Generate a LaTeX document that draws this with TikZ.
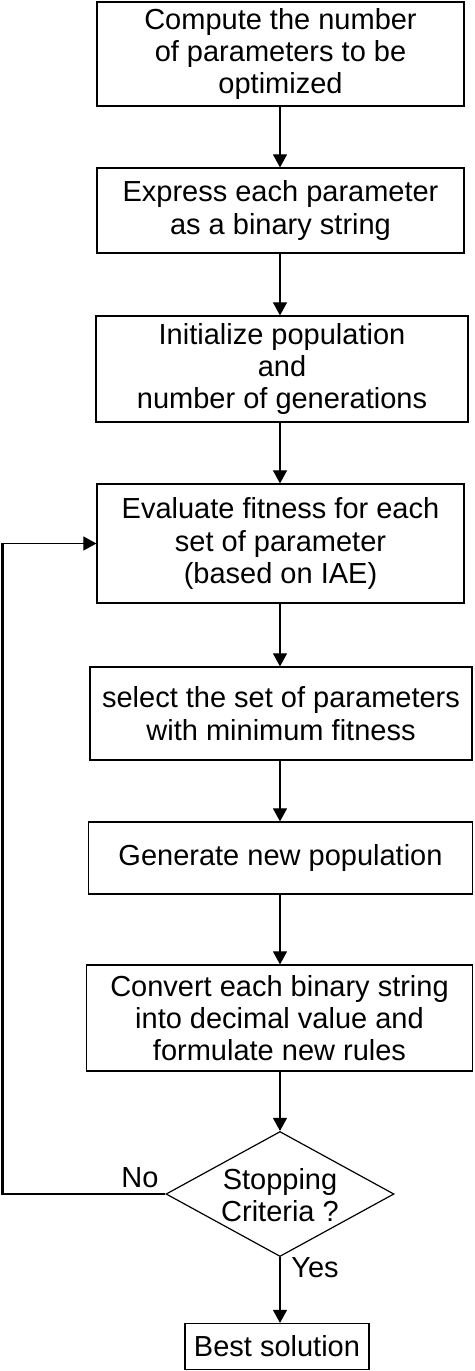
\documentclass[tikz,border=0pt]{standalone}
\usepackage{fontspec}
\setmainfont{Liberation Sans}
\usetikzlibrary{arrows.meta,shapes.geometric}
\newcommand\fcfont{\fontsize{29}{32.3}\selectfont}
\begin{document}
\begin{tikzpicture}[x=1pt,y=-1pt,
  box/.style={draw, line width=1.2pt, align=center, inner sep=0pt, font=\fcfont},
  arr/.style={-{Triangle[length=13pt,width=14pt]}, line width=1.1pt},
  lbl/.style={font=\fcfont, inner sep=0pt, align=center}]
\useasboundingbox (0,0) rectangle (474,1371);
\node[box, minimum width=367pt, minimum height=104pt] (b1) at (280.5,54) {Compute the number\\of parameters to be\\optimized};
\node[box, minimum width=367pt, minimum height=85pt] (b2) at (280.5,210.5) {Express each parameter\\as a binary string};
\node[box, minimum width=372pt, minimum height=106pt] (b3) at (282,369) {Initialize population\\and\\number of generations};
\node[box, minimum width=367pt, minimum height=119pt] (b4) at (280.5,543.5) {Evaluate fitness for each\\set of parameter\\(based on IAE)};
\node[box, minimum width=382pt, minimum height=93pt] (b5) at (281,713.5) {select the set of parameters\\with minimum fitness};
\node[box, minimum width=384pt, minimum height=72pt] (b6) at (280.5,858) {Generate new population};
\node[box, minimum width=386pt, minimum height=106pt] (b7) at (279.5,1018) {Convert each binary string\\into decimal value and\\formulate new rules};
\node[draw, diamond, line width=1.2pt, inner sep=0pt, minimum width=228pt, minimum height=125pt] (dia) at (280,1194) {};
\node[lbl] (diatext) at (280,1195) {Stopping\\Criteria ?};
\node[box, minimum width=184pt, minimum height=46pt] (best) at (277,1346.5) {Best solution};
\node[lbl] (no) at (140,1178) {No};
\node[lbl] (yes) at (315,1268) {Yes};
\coordinate (fbb) at (2,1194);
\draw[arr] (b1.south -| 280,0) -- (280,0 |- b2.north);
\draw[arr] (b2.south -| 280,0) -- (280,0 |- b3.north);
\draw[arr] (b3.south -| 280,0) -- (280,0 |- b4.north);
\draw[arr] (b4.south -| 280,0) -- (280,0 |- b5.north);
\draw[arr] (b5.south -| 280,0) -- (280,0 |- b6.north);
\draw[arr] (b6.south -| 280,0) -- (280,0 |- b7.north);
\draw[arr] (b7.south -| 280,0) -- (dia.north);
\draw[arr] (dia.south) -- (dia.south |- best.north);
\draw[arr] (dia.west) -- (fbb) -- (fbb |- b4.west) -- (b4.west);
\draw[line width=3pt, line cap=square] (fbb) -- (fbb |- b4.west);
\end{tikzpicture}
\end{document}
